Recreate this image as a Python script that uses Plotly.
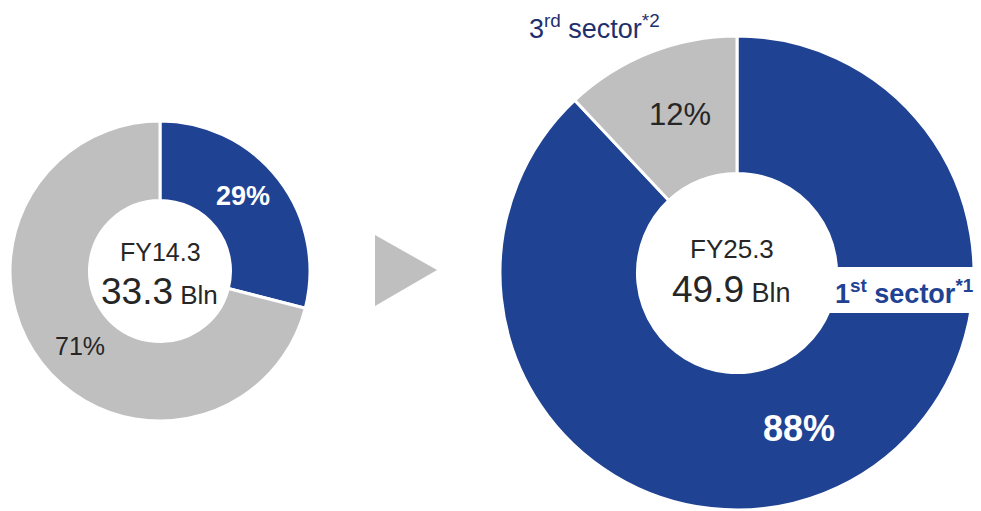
import plotly.graph_objects as go

W, H = 981, 511

# Data
sectors = ["1st sector", "3rd sector"]
fy14_values = [29, 71]
fy25_values = [88, 12]
fy14_label = "FY14.3"
fy25_label = "FY25.3"
fy14_total = "33.3"
fy25_total = "49.9"

BLUE = "#1F4293"
GRAY = "#BFBFBF"
NAVY = "#1F2F6E"
DARK = "#262626"
FONT = "Liberation Sans, Arial, sans-serif"


def px(x, y):
    return x / W, 1 - y / H


fig = go.Figure()
fig.add_trace(go.Pie(
    labels=sectors, values=fy14_values, hole=0.47, sort=False,
    direction="clockwise", rotation=0,
    marker=dict(colors=[BLUE, GRAY], line=dict(color="white", width=3)),
    textinfo="none", hoverinfo="label+percent",
    domain=dict(x=[10 / W, 310 / W], y=[1 - 421 / H, 1 - 121 / H]),
))
fig.add_trace(go.Pie(
    labels=sectors, values=fy25_values, hole=0.42, sort=False,
    direction="clockwise", rotation=0,
    marker=dict(colors=[BLUE, GRAY], line=dict(color="white", width=3)),
    textinfo="none", hoverinfo="label+percent",
    domain=dict(x=[500 / W, 974 / W], y=[0, 476 / H]),
))

# white box behind the "1st sector" label and the arrow
shapes = []
x0, y0 = px(828, 313)
x1, y1 = px(981, 267)
shapes.append(dict(type="rect", xref="paper", yref="paper", x0=x0, y0=y0, x1=x1, y1=y1,
                   fillcolor="white", line=dict(width=0), layer="above"))
ax, ay = px(375, 235)
bx, by = px(375, 306)
cx, cy = px(437, 270)
shapes.append(dict(type="path", xref="paper", yref="paper",
                   path=f"M {ax} {ay} L {bx} {by} L {cx} {cy} Z",
                   fillcolor=GRAY, line=dict(width=0), layer="above"))

annotations = []


def ann(text, x, y, size, color, bold=False):
    xx, yy = px(x, y)
    if bold:
        text = f"<b>{text}</b>"
    annotations.append(dict(text=text, x=xx, y=yy, xref="paper", yref="paper",
                            showarrow=False, xanchor="center", yanchor="middle",
                            font=dict(family=FONT, size=size, color=color)))


ann(fy14_label, 160, 252, 25, DARK)
ann(f"<span style='font-size:37px'>{fy14_total}</span> Bln", 159, 291, 26, DARK)
ann(fy25_label, 732, 249, 26, DARK)
ann(f"<span style='font-size:37px'>{fy25_total}</span> Bln", 731, 289, 27, DARK)

ann(f"{fy14_values[0]}%", 243, 196, 27, "white", bold=True)
ann(f"{fy14_values[1]}%", 80, 346, 25, DARK)
ann(f"{fy25_values[0]}%", 799, 428, 36, "white", bold=True)
ann(f"{fy25_values[1]}%", 680, 114, 31, DARK)

ann("3<sup>rd</sup> sector<sup>*2</sup>", 594, 27, 27, NAVY)
ann("1<sup>st</sup> sector<sup>*1</sup>", 904, 292, 27, BLUE, bold=True)

fig.update_layout(
    width=W, height=H, margin=dict(l=0, r=0, t=0, b=0),
    paper_bgcolor="white", plot_bgcolor="white", showlegend=False,
    shapes=shapes, annotations=annotations,
)
fig.write_html(
    "out.html",
    config={"displayModeBar": False},
    post_script="document.body.style.margin='0px';document.body.style.overflow='hidden';",
)
